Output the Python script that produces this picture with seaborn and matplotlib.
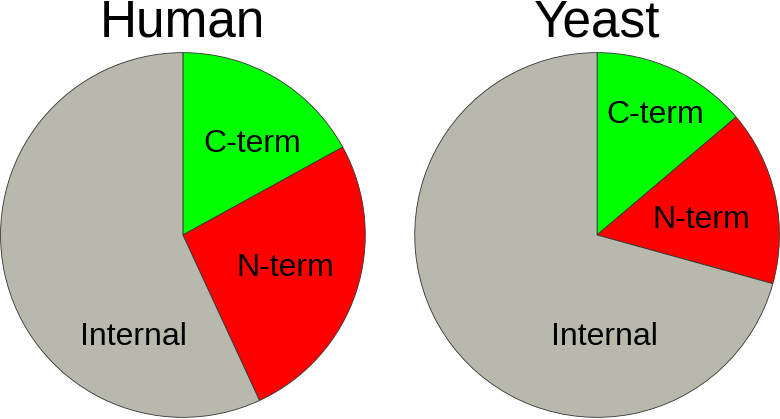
import matplotlib
matplotlib.use('Agg')
import matplotlib.pyplot as plt
import seaborn as sns

# Data (percent of sites)
categories = ['C-term', 'N-term', 'Internal']
human_values = [17.0, 26.1, 56.9]
yeast_values = [13.8, 15.5, 70.7]
titles = ['Human', 'Yeast']

colors = ['#00ff00', '#ff0000', '#b9b8ad']

# label positions inside each pie (pie radius = 1)
human_label_pos = [(0.38, 0.50), (0.56, -0.18), (-0.27, -0.56)]
yeast_label_pos = [(0.32, 0.66), (0.57, 0.08), (0.04, -0.56)]

sns.set_theme(style='white')
plt.rcParams['font.family'] = ['Liberation Sans', 'DejaVu Sans']

fig = plt.figure(figsize=(7.8, 4.19), dpi=100)
fig.patch.set_facecolor('white')

axes_rects = [
    [0.0, 0.0024, 0.469, 0.8735],
    [0.531, 0.0024, 0.469, 0.8735],
]

for rect, title, values, label_pos in zip(axes_rects, titles,
                                          [human_values, yeast_values],
                                          [human_label_pos, yeast_label_pos]):
    ax = fig.add_axes(rect)
    ax.pie(values, colors=colors, startangle=90, counterclock=False,
           radius=1.0, wedgeprops=dict(edgecolor='#333333', linewidth=0.6))
    for cat, (x, y) in zip(categories, label_pos):
        ax.text(x, y, cat, ha='center', va='center', fontsize=23, color='black')
    ax.text(0, 1.087, title, ha='center', va='baseline', fontsize=37,
            color='black', clip_on=False)
    ax.set_xlim(-1.003, 1.003)
    ax.set_ylim(-1.003, 1.003)
    ax.set_aspect('equal')
    ax.axis('off')

fig.savefig('out.png', dpi=100, facecolor='white')
plt.close(fig)
